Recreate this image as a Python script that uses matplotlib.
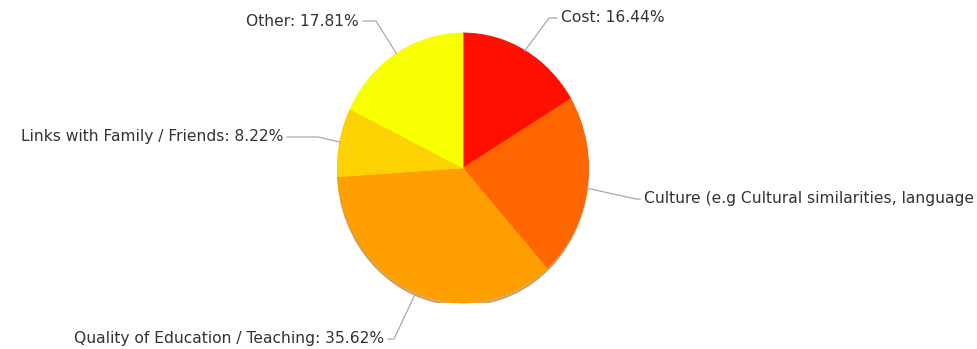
import numpy as np
import matplotlib
matplotlib.use('Agg')
import matplotlib.pyplot as plt
from matplotlib.patches import Ellipse

# data
labels = ['Cost', 'Culture (e.g Cultural similarities, language', 'Quality of Education / Teaching',
          'Links with Family / Friends', 'Other']
values = [16.44, 21.91, 35.62, 8.22, 17.81]
colors = ['#FF0F00', '#FF6600', '#FF9E01', '#FCD202', '#F8FF01']
# the culture label is cut at the chart edge in the original
show_value = [True, False, True, True, True]

# layout (pixels)
W, H = 978, 349
cx, cy = 463, 168
rx, ry = 125.5, 135
# label anchor positions: (text x, text y, align, elbow x)
label_pos = [(561, 18, 'left', 549),
             (644, 199, 'left', 636),
             (384, 339, 'right', 394),
             (283, 137, 'right', 318),
             (359, 21, 'right', 376)]

fig = plt.figure(figsize=(W / 100, H / 100), dpi=100)

# pie axes (slightly elliptical like the original)
axp = fig.add_axes([(cx - rx) / W, (H - cy - ry) / H, 2 * rx / W, 2 * ry / H])
shadow = Ellipse((0, -0.018), 2.0, 2.0, color='#9a5a00', alpha=0.45, zorder=0)
axp.add_patch(shadow)
wedges, _ = axp.pie(values, colors=colors, startangle=90, counterclock=False,
                    wedgeprops=dict(linewidth=0.6), frame=False)
for w, c in zip(wedges, colors):
    w.set_edgecolor(c)
    w.set_zorder(1)
axp.set_xlim(-1, 1)
axp.set_ylim(-1, 1)
axp.set_aspect('auto')
axp.axis('off')

# overlay for labels in pixel coordinates
ax = fig.add_axes([0, 0, 1, 1])
ax.set_xlim(0, W)
ax.set_ylim(H, 0)
ax.axis('off')

total = sum(values)
start = 0
for lab, v, sv, (tx, ty, ha, ex) in zip(labels, values, show_value, label_pos):
    mid = (start + v / 2) / total * 2 * np.pi
    start += v
    axx = cx + rx * np.sin(mid)
    ayy = cy - ry * np.cos(mid)
    endx = tx - 4 if ha == 'left' else tx + 4
    ax.plot([axx, ex, endx], [ayy, ty, ty], color='#aaaaaa', lw=0.9)
    txt = f'{lab}: {v:.2f}%' if sv else lab
    ax.text(tx, ty, txt, ha=ha, va='center', fontsize=11.2,
            color='#333333', family='DejaVu Sans')

fig.savefig('out.png', dpi=100)
